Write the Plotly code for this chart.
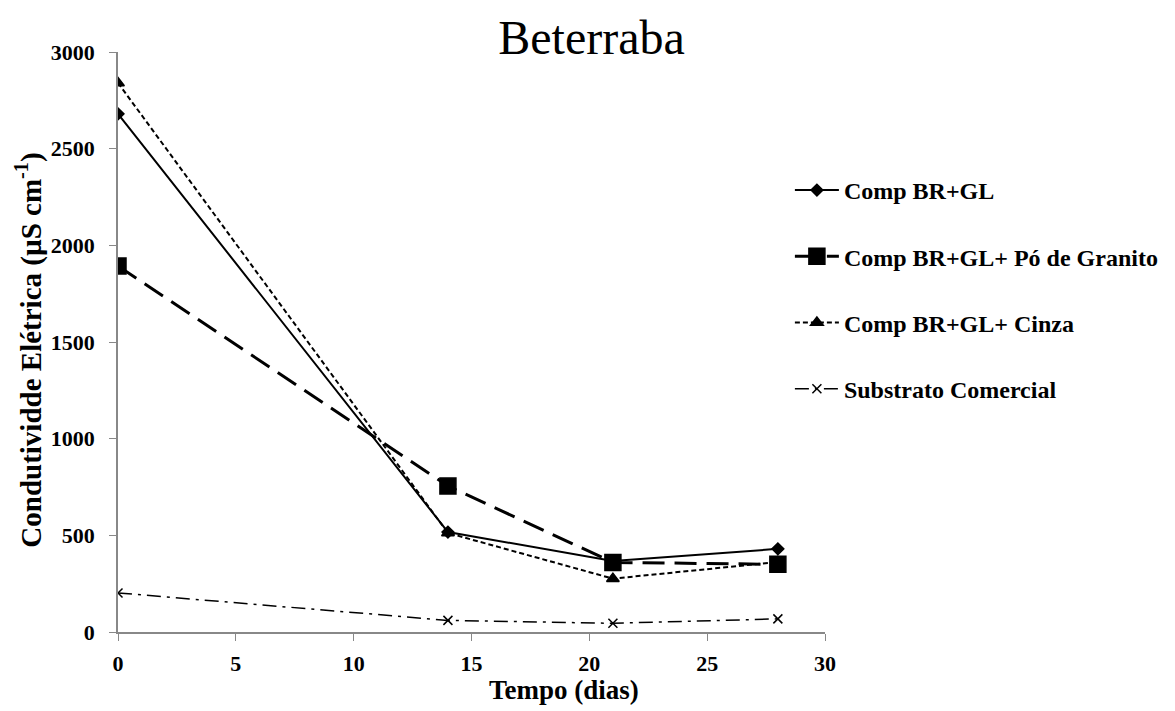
import plotly.graph_objects as go

dias = [0, 14, 21, 28]
comp_br_gl = [2680, 517, 367, 430]
comp_granito = [1893, 755, 360, 350]
comp_cinza = [2840, 512, 276, 362]
substrato = [202, 60, 45, 68]

names = ["Comp BR+GL", "Comp BR+GL+ Pó de Granito", "Comp BR+GL+ Cinza", "Substrato Comercial"]
series = [comp_br_gl, comp_granito, comp_cinza, substrato]
dashes = ["solid", "22px,10px", "5px,3px", "14px,6px,3px,6px"]
widths = [2, 3, 2, 1.5]
symbols = ["diamond", "square", "triangle-up", "x-thin"]
msizes = [9, 16, 11, 9]

x_title = "Tempo (dias)"
y_title = "Condutividde Elétrica (µS cm<sup>-1</sup>)"

fig = go.Figure()
for i, (n, s) in enumerate(zip(names, series)):
    fig.add_trace(go.Scatter(
        x=dias, y=s, name=n, mode="lines+markers",
        line=dict(color="black", width=widths[i], dash=dashes[i]),
        marker=dict(symbol=symbols[i], size=msizes[i], color="black",
                    line=dict(color="black", width=1.5)),
        legendgroup=str(i),
    ))

font = "Liberation Serif, Times New Roman, serif"
fig.update_layout(
    width=1167, height=703,
    paper_bgcolor="white", plot_bgcolor="white",
    margin=dict(l=110, r=349, t=44, b=79),
    title=dict(text="Beterraba", x=0.5, xanchor="center", y=0.958, yanchor="middle",
               font=dict(family=font, size=48, color="black")),
    font=dict(family=font, color="black"),
    legend=dict(x=0.949, xanchor="left", y=0.80, yanchor="top",
                font=dict(family=font, size=24, color="black", weight="bold"),
                tracegroupgap=32, itemwidth=44, bgcolor="rgba(0,0,0,0)"),
    showlegend=True,
    annotations=[
        dict(text=x_title, xref="paper", yref="paper", x=0.631, y=0, xanchor="center",
             yanchor="middle", yshift=-58, showarrow=False,
             font=dict(family=font, size=27, color="black", weight="bold")),
        dict(text=y_title, xref="paper", yref="paper", x=-0.1265, y=0.486, xanchor="center",
             yanchor="middle", textangle=-90, showarrow=False,
             font=dict(family=font, size=29, color="black", weight="bold")),
    ],
)
fig.update_xaxes(range=[0, 30], tickvals=[0, 5, 10, 15, 20, 25, 30],
                 showgrid=False, zeroline=False, showline=True, linecolor="#888888", linewidth=1.5,
                 ticks="outside", ticklen=7, tickcolor="#888888", ticklabelstandoff=4,
                 tickfont=dict(family=font, size=22, color="black", weight="bold"))
fig.update_yaxes(range=[0, 3000], tickvals=[0, 500, 1000, 1500, 2000, 2500, 3000],
                 showgrid=False, zeroline=False, showline=True, linecolor="#888888", linewidth=1.5,
                 ticks="outside", ticklen=7, tickcolor="#888888", ticklabelstandoff=10,
                 tickfont=dict(family=font, size=22, color="black", weight="bold"))
fig.write_html("out.html")
